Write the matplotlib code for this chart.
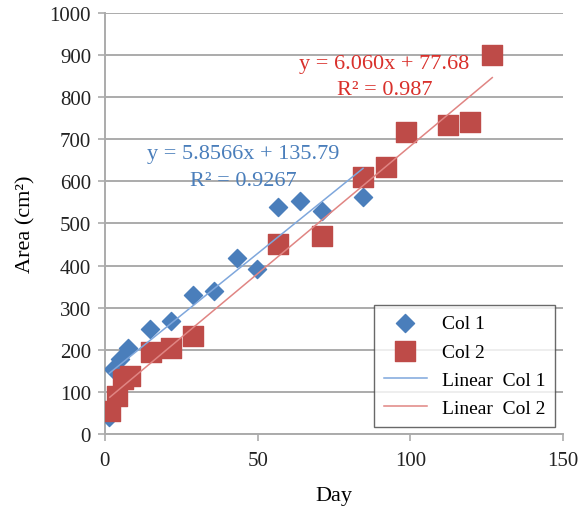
import numpy as np
import matplotlib
matplotlib.use('Agg')
import matplotlib.pyplot as plt

plt.rcParams['font.family'] = ['Liberation Serif', 'DejaVu Serif']

# Col 1 (blue diamonds)
day1 = [1.5, 2.7, 4.9, 7.5, 14.7, 21.6, 28.8, 35.7, 43.2, 49.8, 56.7, 63.9, 71.1, 84.5]
area1 = [40, 154, 178, 204, 249, 268, 330, 340, 418, 392, 539, 553, 530, 563]

# Col 2 (red squares)
day2 = [1.6, 3.8, 5.9, 8.2, 15.0, 21.6, 28.8, 56.7, 71.1, 84.5, 92.0, 98.6, 112.3, 119.6, 126.8]
area2 = [55, 90, 130, 138, 195, 204, 233, 451, 470, 611, 634, 718, 734, 741, 900]

# trendline coefficients as shown on the chart
slope1, icpt1 = 5.8566, 135.79
slope2, icpt2 = 6.060, 77.68

blue = '#4A7EBB'
red = '#BE4B48'
blue_line = '#7FA7DC'
red_line = '#E08583'
grid_c = '#ABABAB'

fig = plt.figure(figsize=(5.86, 5.10), dpi=100)
ax = fig.add_axes([0.179, 0.147, 0.782, 0.826])

ax.set_xlim(0, 150)
ax.set_ylim(0, 1000)
ax.set_xticks([0, 50, 100, 150])
ax.set_yticks(np.arange(0, 1001, 100))
ax.yaxis.grid(True, color=grid_c, linewidth=1.4)
ax.set_axisbelow(True)

for side in ['top', 'right']:
    ax.spines[side].set_visible(False)
for side in ['left', 'bottom']:
    ax.spines[side].set_color(grid_c)
    ax.spines[side].set_linewidth(1.4)
ax.tick_params(axis='both', colors=grid_c, length=5, width=1.2, labelsize=15,
               labelcolor='#222222')
ax.tick_params(axis='y', pad=5)
ax.tick_params(axis='x', pad=7)

x1 = np.array([min(day1), max(day1)])
x2 = np.array([min(day2), max(day2)])

ax.scatter(day1, area1, marker='D', s=85, color=blue, label='Col 1', zorder=3)
ax.scatter(day2, area2, marker='s', s=190, color=red, label='Col 2', zorder=3)
ax.plot(x1, slope1 * x1 + icpt1, color=blue_line, lw=1.1, label='Linear  Col 1', zorder=4)
ax.plot(x2, slope2 * x2 + icpt2, color=red_line, lw=1.1, label='Linear  Col 2', zorder=4)

ax.text(45.3, 665, 'y = 5.8566x + 135.79', color=blue, fontsize=16, ha='center', va='center')
ax.text(45.3, 601, 'R² = 0.9267', color=blue, fontsize=16, ha='center', va='center')
ax.text(91.5, 879, 'y = 6.060x + 77.68', color='#D9302B', fontsize=16, ha='center', va='center')
ax.text(91.5, 819, 'R² = 0.987', color='#D9302B', fontsize=16, ha='center', va='center')

ax.set_xlabel('Day', fontsize=16, labelpad=12)
ax.set_ylabel('Area (cm²)', fontsize=16, labelpad=10)

leg = ax.legend(loc='lower right', bbox_to_anchor=(0.983, 0.017), borderaxespad=0,
                fontsize=14, frameon=True, fancybox=False, edgecolor='#444444',
                handlelength=2.2, borderpad=0.5, labelspacing=0.55)
leg.get_frame().set_linewidth(1.0)

fig.savefig('out.png', dpi=100)
